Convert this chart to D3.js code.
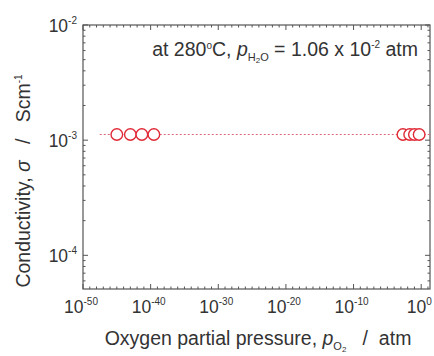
<!DOCTYPE html>
<html>
<head>
<meta charset="utf-8">
<script src="https://cdn.jsdelivr.net/npm/d3@7"></script>
<style>
  body { margin: 0; background: #fff; }
  text { font-family: "Liberation Sans", Arial, sans-serif; fill: #333; }
</style>
</head>
<body>
<svg id="chart" width="434" height="356"></svg>
<script>
// measured points: oxygen partial pressure (atm) and conductivity (S/cm)
var pO2 = [1e-45, 1e-43, 5e-42, 3e-40, 2e-3, 2e-2, 1e-1, 5e-1];
var sigma = [1.12e-3, 1.12e-3, 1.12e-3, 1.12e-3, 1.12e-3, 1.12e-3, 1.12e-3, 1.12e-3];

// dashed guide line
var lineX = [3e-48, 20];
var lineY = [1.12e-3, 1.12e-3];

// tick labels
var xTickExp = [-50, -40, -30, -20, -10, 0];
var yTickExp = [-2, -3, -4];

var svg = d3.select("#chart");
var mLeft = 83, mRight = 430, mTop = 25, mBottom = 289;

var x = d3.scaleLog().domain([1e-50, 20]).range([mLeft, mRight]);
var y = d3.scaleLog().domain([5.1e-5, 1e-2]).range([mBottom, mTop]);

var axisColor = "#555";

// frame
svg.append("rect")
   .attr("x", mLeft).attr("y", mTop)
   .attr("width", mRight - mLeft).attr("height", mBottom - mTop)
   .attr("fill", "none").attr("stroke", axisColor).attr("stroke-width", 1.2);

// x ticks (every decade, major every 10), inward on bottom and top
var xDecades = d3.range(-50, 2);
var g = svg.append("g").attr("stroke", axisColor).attr("stroke-width", 1);
xDecades.forEach(function(e) {
  var xx = x(Math.pow(10, e));
  var len = (e % 10 === 0) ? 5 : 2.5;
  g.append("line").attr("x1", xx).attr("x2", xx).attr("y1", mBottom).attr("y2", mBottom - len);
  g.append("line").attr("x1", xx).attr("x2", xx).attr("y1", mTop).attr("y2", mTop + len);
});

// y ticks (major at decades, minor 2..9), inward on left and right
d3.range(-5, -1).forEach(function(e) {
  d3.range(1, 10).forEach(function(m) {
    var v = m * Math.pow(10, e);
    if (v < y.domain()[0] || v > y.domain()[1]) return;
    var yy = y(v);
    var len = (m === 1) ? 5 : 2.5;
    g.append("line").attr("x1", mLeft).attr("x2", mLeft + len).attr("y1", yy).attr("y2", yy);
    g.append("line").attr("x1", mRight).attr("x2", mRight - len).attr("y1", yy).attr("y2", yy);
  });
});

// x tick labels
xTickExp.forEach(function(e) {
  var t = svg.append("text")
     .attr("x", x(Math.pow(10, e)) - 2)
     .attr("y", 313)
     .attr("text-anchor", "middle")
     .attr("font-size", 17.5);
  t.append("tspan").text("10");
  t.append("tspan").attr("dy", -8).attr("font-size", 10).text(e);
});

// y tick labels
yTickExp.forEach(function(e) {
  var t = svg.append("text")
     .attr("x", 77)
     .attr("y", y(Math.pow(10, e)) + 7)
     .attr("text-anchor", "end")
     .attr("font-size", 17.5);
  t.append("tspan").text("10");
  t.append("tspan").attr("dy", -8).attr("font-size", 10).text(e);
});

// dashed line
var line = d3.line()
  .x(function(d) { return x(d[0]); })
  .y(function(d) { return y(d[1]); });
svg.append("path")
   .datum(d3.zip(lineX, lineY))
   .attr("d", line)
   .attr("fill", "none")
   .attr("stroke", "#d86a78")
   .attr("stroke-width", 1)
   .attr("stroke-dasharray", "2,2");

// circles
svg.append("g")
   .selectAll("circle")
   .data(d3.zip(pO2, sigma))
   .enter()
   .append("circle")
   .attr("cx", function(d) { return x(d[0]); })
   .attr("cy", function(d) { return y(d[1]); })
   .attr("r", 5.8)
   .attr("fill", "#fff")
   .attr("stroke", "#e02a36")
   .attr("stroke-width", 1.4);

// annotation
var ann = svg.append("text")
   .attr("x", 418).attr("y", 56)
   .attr("text-anchor", "end")
   .attr("font-size", 19.5);
ann.append("tspan").text("at 280");
ann.append("tspan").attr("dy", -7).attr("font-size", 10).text("o");
ann.append("tspan").attr("dy", 7).text("C, ");
ann.append("tspan").attr("font-style", "italic").text("p");
ann.append("tspan").attr("dy", 5).attr("font-size", 11).text("H");
ann.append("tspan").attr("dy", 2).attr("font-size", 8).text("2");
ann.append("tspan").attr("dy", -2).attr("font-size", 11).text("O");
ann.append("tspan").attr("dy", -5).text(" = 1.06 x 10");
ann.append("tspan").attr("dy", -8).attr("font-size", 10).text("-2");
ann.append("tspan").attr("dy", 8).text(" atm");

// x title
var xt = svg.append("text")
   .attr("x", 258).attr("y", 345)
   .attr("text-anchor", "middle")
   .attr("font-size", 19.5);
xt.append("tspan").text("Oxygen partial pressure, ");
xt.append("tspan").attr("font-style", "italic").text("p");
xt.append("tspan").attr("dy", 5).attr("font-size", 11).text("O");
xt.append("tspan").attr("dy", 2).attr("font-size", 8).text("2");
xt.append("tspan").attr("dy", -7).attr("xml:space", "preserve").text("   /  atm");

// y title
var yt = svg.append("text")
   .attr("transform", "translate(30,181) rotate(-90)")
   .attr("text-anchor", "middle")
   .attr("font-size", 19.5);
yt.append("tspan").text("Conductivity, ");
yt.append("tspan").attr("font-style", "italic").text("σ");
yt.append("tspan").attr("xml:space", "preserve").text("   /   Scm");
yt.append("tspan").attr("dy", -8).attr("font-size", 10).text("-1");
</script>
</body>
</html>
